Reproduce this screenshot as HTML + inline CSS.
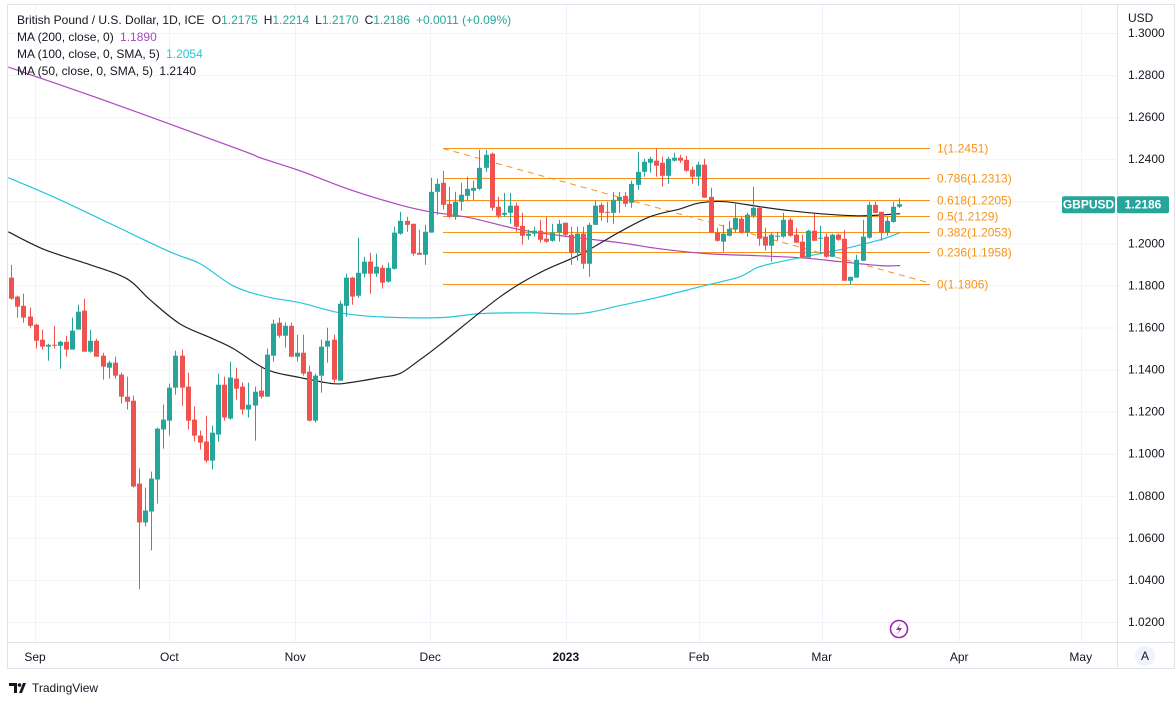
<!DOCTYPE html>
<html><head><meta charset="utf-8"><style>
html,body{margin:0;padding:0;background:#fff;width:1176px;height:702px;overflow:hidden;font-family:"Liberation Sans",sans-serif}
svg{position:absolute;left:0;top:0}
</style></head><body>
<svg id="chart" width="1176" height="702" xmlns="http://www.w3.org/2000/svg"></svg>
<script>
const candles = [
[1.1837,1.1898,1.1732,1.1737],[1.1747,1.1751,1.1647,1.1699],[1.1703,1.1761,1.1623,1.1647],[1.1652,1.1694,1.1599,1.1608],
[1.1613,1.1618,1.1500,1.1537],[1.1542,1.1590,1.1495,1.1509],[1.1509,1.1523,1.1442,1.1518],[1.1518,1.1608,1.1500,1.1513],
[1.1513,1.1537,1.1404,1.1532],[1.1532,1.1561,1.1461,1.1495],[1.1495,1.1647,1.1495,1.1585],[1.1590,1.1708,1.1590,1.1675],
[1.1680,1.1737,1.1485,1.1485],[1.1485,1.1590,1.1480,1.1537],[1.1537,1.1547,1.1461,1.1461],[1.1466,1.1480,1.1352,1.1414],
[1.1409,1.1442,1.1357,1.1433],[1.1433,1.1461,1.1357,1.1371],[1.1376,1.1385,1.1238,1.1271],[1.1271,1.1366,1.1210,1.1247],
[1.1252,1.1276,1.0839,1.0844],[1.0858,1.0930,1.0355,1.0673],[1.0673,1.0839,1.0654,1.0730],[1.0725,1.0915,1.0540,1.0882],
[1.0877,1.1124,1.0763,1.1119],[1.1115,1.1233,1.1024,1.1162],[1.1157,1.1333,1.1086,1.1314],[1.1314,1.1490,1.1281,1.1466],
[1.1466,1.1495,1.1228,1.1314],[1.1319,1.1385,1.1115,1.1157],[1.1162,1.1224,1.1058,1.1086],[1.1086,1.1110,1.1020,1.1053],
[1.1058,1.1181,1.0958,1.0967],[1.0967,1.1134,1.0925,1.1100],[1.1091,1.1381,1.1058,1.1328],[1.1328,1.1366,1.1157,1.1172],
[1.1167,1.1438,1.1162,1.1362],[1.1357,1.1409,1.1257,1.1309],[1.1319,1.1338,1.1186,1.1210],[1.1210,1.1338,1.1172,1.1233],
[1.1229,1.1319,1.1062,1.1295],[1.1300,1.1409,1.1262,1.1271],[1.1271,1.1500,1.1271,1.1471],[1.1466,1.1637,1.1438,1.1618],
[1.1623,1.1647,1.1551,1.1561],[1.1561,1.1623,1.1504,1.1608],[1.1608,1.1623,1.1461,1.1461],[1.1461,1.1566,1.1438,1.1480],
[1.1480,1.1566,1.1371,1.1381],[1.1390,1.1419,1.1153,1.1157],[1.1157,1.1381,1.1148,1.1371],[1.1371,1.1542,1.1290,1.1509],
[1.1509,1.1599,1.1433,1.1537],[1.1542,1.1566,1.1338,1.1352],[1.1347,1.1727,1.1347,1.1713],[1.1703,1.1856,1.1651,1.1837],
[1.1837,1.1841,1.1708,1.1747],[1.1751,1.2027,1.1742,1.1860],[1.1856,1.1936,1.1837,1.1913],[1.1913,1.1955,1.1761,1.1856],
[1.1856,1.1951,1.1841,1.1889],[1.1884,1.1898,1.1785,1.1813],[1.1818,1.1908,1.1813,1.1884],[1.1879,1.2079,1.1875,1.2051],
[1.2046,1.2150,1.2041,1.2107],[1.2107,1.2126,1.2055,1.2088],[1.2093,1.2093,1.1941,1.1951],[1.1955,1.2065,1.1946,1.1946],
[1.1946,1.2088,1.1898,1.2055],[1.2051,1.2312,1.2051,1.2245],[1.2245,1.2307,1.2136,1.2283],[1.2288,1.2345,1.2160,1.2183],
[1.2188,1.2269,1.2121,1.2126],[1.2126,1.2245,1.2112,1.2198],[1.2198,1.2288,1.2155,1.2231],[1.2226,1.2317,1.2202,1.2259],
[1.2250,1.2298,1.2207,1.2264],[1.2259,1.2445,1.2255,1.2359],[1.2359,1.2445,1.2340,1.2421],[1.2426,1.2431,1.2155,1.2169],
[1.2174,1.2221,1.2121,1.2131],[1.2136,1.2240,1.2126,1.2145],[1.2145,1.2240,1.2093,1.2179],[1.2179,1.2193,1.2055,1.2079],
[1.2083,1.2145,1.1994,1.2036],[1.2036,1.2065,1.2017,1.2046],[1.2046,1.2079,1.2032,1.2060],[1.2060,1.2112,1.2003,1.2017],
[1.2022,1.2126,1.2003,1.2008],[1.2012,1.2093,1.2008,1.2051],[1.2051,1.2112,1.2008,1.2093],[1.2098,1.2098,1.2032,1.2041],
[1.2041,1.2079,1.1898,1.1955],[1.1955,1.2079,1.1917,1.2046],[1.2046,1.2079,1.1879,1.1903],[1.1903,1.2098,1.1841,1.2088],
[1.2088,1.2202,1.2088,1.2179],[1.2183,1.2193,1.2107,1.2145],[1.2150,1.2198,1.2098,1.2145],[1.2145,1.2245,1.2093,1.2207],
[1.2202,1.2245,1.2145,1.2221],[1.2226,1.2245,1.2174,1.2188],[1.2193,1.2298,1.2169,1.2283],[1.2278,1.2435,1.2255,1.2340],
[1.2340,1.2402,1.2317,1.2388],[1.2383,1.2412,1.2336,1.2402],[1.2393,1.2450,1.2317,1.2369],[1.2383,1.2412,1.2269,1.2321],
[1.2321,1.2412,1.2283,1.2402],[1.2393,1.2431,1.2388,1.2407],[1.2407,1.2421,1.2383,1.2393],[1.2397,1.2416,1.2340,1.2345],
[1.2350,1.2364,1.2283,1.2317],[1.2317,1.2388,1.2274,1.2374],[1.2374,1.2402,1.2217,1.2217],[1.2221,1.2264,1.2051,1.2051],
[1.2051,1.2074,1.2008,1.2012],[1.2008,1.2088,1.1960,1.2046],[1.2036,1.2107,1.2032,1.2069],[1.2065,1.2188,1.2051,1.2121],
[1.2117,1.2126,1.2046,1.2051],[1.2051,1.2145,1.2032,1.2136],[1.2131,1.2269,1.2121,1.2169],[1.2169,1.2174,1.1989,1.2022],
[1.2032,1.2074,1.1965,1.1989],[1.1989,1.2051,1.1913,1.2041],[1.2032,1.2055,1.2012,1.2036],[1.2032,1.2145,1.2027,1.2112],
[1.2112,1.2121,1.2032,1.2036],[1.2041,1.2074,1.2003,1.2003],[1.2008,1.2041,1.1927,1.1932],[1.1932,1.2065,1.1932,1.2060],
[1.2060,1.2140,1.2012,1.2012],[1.2022,1.2083,1.1951,1.2027],[1.2032,1.2046,1.1932,1.1936],[1.1936,1.2046,1.1936,1.2041],
[1.2041,1.2046,1.2012,1.2017],[1.2022,1.2065,1.1822,1.1822],[1.1822,1.1841,1.1803,1.1841],[1.1837,1.1946,1.1837,1.1922],
[1.1917,1.2112,1.1917,1.2032],[1.2027,1.2198,1.2022,1.2183],[1.2183,1.2198,1.2145,1.2145],[1.2150,1.2150,1.2012,1.2051],
[1.2051,1.2126,1.2036,1.2107],[1.2102,1.2198,1.2098,1.2174],[1.2174,1.2214,1.2169,1.2186]
];
const ma50 = [[-0.5,1.2055],[5.5,1.1970],[13,1.1898],[19,1.1832],[22.8,1.1732],[27.7,1.1618],[32.7,1.1552],[36.5,1.1500],[42,1.1400],[47.5,1.1362],[52.9,1.1333],[55.7,1.1338],[60.6,1.1362],[63.9,1.1381],[67.2,1.1447],[70.5,1.1518],[80.4,1.1746],[86.9,1.1860],[93.5,1.1946],[100.1,1.2055],[105,1.2126],[110,1.2164],[113.3,1.2193],[117.4,1.2198],[123.1,1.2174],[128.1,1.2155],[133,1.2141],[139.6,1.2131],[146.2,1.2141]];
const ma100 = [[-0.5,1.2312],[8,1.2207],[25.3,1.1970],[31,1.1904],[36.5,1.1798],[42,1.1746],[47.5,1.1718],[54,1.1670],[60.6,1.1651],[70.5,1.1647],[77.1,1.1666],[85.3,1.1670],[93.5,1.1666],[100.1,1.1704],[106.7,1.1746],[113.3,1.1794],[119.8,1.1841],[123.1,1.1889],[129.7,1.1932],[136.3,1.1970],[142.9,1.2017],[146.2,1.2051]];
const ma200 = [[-0.5,1.2838],[14.6,1.2687],[37.6,1.2445],[40.9,1.2407],[47.5,1.2345],[55.7,1.2255],[63.9,1.2183],[68.9,1.2150],[75.4,1.2122],[83.7,1.2065],[91.9,1.2031],[100.1,1.2003],[106.7,1.1974],[114.9,1.1950],[123.1,1.1941],[129.7,1.1932],[136.3,1.1913],[142.9,1.1894],[146.2,1.1894]];
const fibRatios = ["1","0.786","0.618","0.5","0.382","0.236","0"];
const fibPrices = [1.2451,1.2313,1.2205,1.2129,1.2053,1.1958,1.1806];
const yTicks = [1.30,1.28,1.26,1.24,1.22,1.20,1.18,1.16,1.14,1.12,1.10,1.08,1.06,1.04,1.02];
const dateLabels = ["Sep","Oct","Nov","Dec","2023","Feb","Mar","Apr","May"];
const dateIdx = [3.9,26,46.7,68.9,91.2,113.1,133.3,155.9,175.9];

const svg=document.getElementById('chart');
const NS='http://www.w3.org/2000/svg';
function X(i){return 11.3+6.08*i;}
function Y(p){return 33+(1.30-p)*2103.5;}
function mk(tag,attrs,parent){const e=document.createElementNS(NS,tag);for(const k in attrs)e.setAttribute(k,attrs[k]);(parent||svg).appendChild(e);return e;}
const G='#26a69a',R='#ef5350',O='#f7931a';

let e;
e=mk('rect',{x:7.5,y:4.5,width:1167,height:664,fill:'none',stroke:'#e0e3eb'});


const grid=mk('g',{stroke:'#f0f3fa','stroke-width':1});


yTicks.forEach(t=>{mk('line',{x1:8,x2:1117,y1:Y(t)+0.5,y2:Y(t)+0.5},grid);});
dateIdx.forEach(d=>{mk('line',{x1:Math.round(X(d))+0.5,x2:Math.round(X(d))+0.5,y1:5,y2:642},grid);});
e=mk('line',{x1:1117.5,x2:1117.5,y1:5,y2:668,stroke:'#e0e3eb'});


e=mk('line',{x1:8,x2:1175,y1:642.5,y2:642.5,stroke:'#e0e3eb'});



const yl=mk('g',{'font-size':12,fill:'#131722','font-family':'Liberation Sans, sans-serif'});


yTicks.forEach(t=>{const tx=mk('text',{x:1128,y:Y(t)+4},yl);tx.textContent=t.toFixed(4);
 
 });
e=mk('text',{x:1128,y:22,'font-size':12,fill:'#131722'});e.textContent='USD';



const xl=mk('g',{'font-size':12,fill:'#131722','text-anchor':'middle'});


dateLabels.forEach((d,k)=>{const tx=mk('text',{x:X(dateIdx[k]),y:661,'font-weight':d=='2023'?'bold':'normal'},xl);tx.textContent=d;
 
 });

const fib=mk('g',{});


fibPrices.forEach((p,k)=>{const y=Math.round(Y(p))+0.5;
 const l=mk('line',{x1:443,x2:930,y1:y,y2:y,stroke:O,'stroke-width':1},fib);
 
 
 const t=mk('text',{x:937,y:y+4,'font-size':12,fill:O},fib);t.textContent=fibRatios[k]+'('+p.toFixed(4)+')';
 
 });
e=mk('line',{x1:443,y1:Y(fibPrices[0]),x2:930,y2:Y(fibPrices[6])-1,stroke:O,'stroke-width':1,'stroke-dasharray':'6,5'});



function line(arr,color,name){
 const pts=arr.map(p=>[X(p[0]),Y(p[1])]);
 let d='M'+pts[0][0].toFixed(1)+','+pts[0][1].toFixed(1);
 for(let k=0;k<pts.length-1;k++){
  const p0=pts[Math.max(0,k-1)],p1=pts[k],p2=pts[k+1],p3=pts[Math.min(pts.length-1,k+2)];
  const c1x=p1[0]+(p2[0]-p0[0])/6,c1y=p1[1]+(p2[1]-p0[1])/6;
  const c2x=p2[0]-(p3[0]-p1[0])/6,c2y=p2[1]-(p3[1]-p1[1])/6;
  d+='C'+c1x.toFixed(1)+','+c1y.toFixed(1)+' '+c2x.toFixed(1)+','+c2y.toFixed(1)+' '+p2[0].toFixed(1)+','+p2[1].toFixed(1);
 }
 const l=mk('path',{d:d,fill:'none',stroke:color,'stroke-width':1.2});
 
 }
line(ma200,'#ab47bc','ma200-line');
line(ma100,'#26c6da','ma100-line');
line(ma50,'#222222','ma50-line');

const cg=mk('g',{});


candles.forEach((c,i)=>{const [o,h,l,cl]=c;const col=cl>=o?G:R;const x=Math.round(X(i));
 const w=mk('rect',{x:x,y:Y(h),width:1,height:Math.max(1,Y(l)-Y(h)),fill:col},cg);
 
 
 const top=Y(Math.max(o,cl)),bot=Y(Math.min(o,cl));
 const b=mk('rect',{x:x-2,y:top,width:5,height:Math.max(1,bot-top),fill:col},cg);
 
 });

const last=candles[candles.length-1][3];const ty=Y(last);
e=mk('rect',{x:1062,y:ty-8,width:53,height:17,rx:2,fill:G});


e=mk('text',{x:1088.5,y:ty+4.5,'font-size':12,'font-weight':'bold',fill:'#fff','text-anchor':'middle'});e.textContent='GBPUSD';


e=mk('rect',{x:1117,y:ty-8,width:52,height:17,rx:2,fill:G});


e=mk('text',{x:1143,y:ty+4.5,'font-size':12,'font-weight':'bold',fill:'#fff','text-anchor':'middle'});e.textContent=last.toFixed(4);



e=mk('circle',{cx:899,cy:629,r:8.5,fill:'#fff',stroke:'#9c27b0','stroke-width':1.6});


e=mk('path',{d:'M901,623 L896,630 L899.5,630 L897,635 L902,628 L898.5,628 Z',fill:'#9c27b0'});


e=mk('circle',{cx:1145,cy:656,r:10,fill:'#f0f3fa'});


e=mk('text',{x:1145,y:660,'font-size':12,fill:'#131722','text-anchor':'middle'});e.textContent='A';



const lg=mk('g',{'font-size':12,fill:'#131722'});


const t1=mk('text',{x:17,y:24},lg);


t1.innerHTML='British Pound / U.S. Dollar, 1D, ICE <tspan dx="4">O</tspan><tspan fill="#26a69a">1.2175</tspan><tspan dx="6">H</tspan><tspan fill="#26a69a">1.2214</tspan><tspan dx="6">L</tspan><tspan fill="#26a69a">1.2170</tspan><tspan dx="6">C</tspan><tspan fill="#26a69a">1.2186</tspan><tspan dx="6" fill="#26a69a">+0.0011 (+0.09%)</tspan>';
const t2=mk('text',{x:17,y:41},lg);t2.innerHTML='MA (200, close, 0) <tspan dx="3" fill="#ab47bc">1.1890</tspan>';


const t3=mk('text',{x:17,y:58},lg);t3.innerHTML='MA (100, close, 0, SMA, 5) <tspan dx="3" fill="#26c6da">1.2054</tspan>';


const t4=mk('text',{x:17,y:75},lg);t4.innerHTML='MA (50, close, 0, SMA, 5) <tspan dx="3">1.2140</tspan>';



const lo=mk('g',{});


mk('path',{d:'M9,683 h8 v10 h-3 v-7 h-5 Z M19,693 l4,-10 h3 l-4,10 Z',fill:'#131722'},lo);
mk('circle',{cx:19.5,cy:685,r:1.8,fill:'#131722'},lo);
const lt=mk('text',{x:32,y:692,'font-size':12,fill:'#131722'},lo);lt.textContent='TradingView';


</script>
</body></html>
